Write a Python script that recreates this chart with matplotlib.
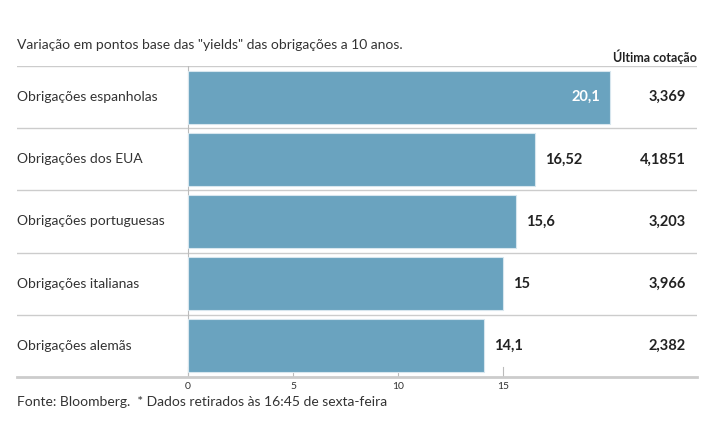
import matplotlib
matplotlib.use("Agg")
import matplotlib.pyplot as plt
from matplotlib.transforms import blended_transform_factory

plt.rcParams['font.family'] = ['Lato', 'DejaVu Sans']

categories = ["Obrigações espanholas", "Obrigações dos EUA", "Obrigações portuguesas",
              "Obrigações italianas", "Obrigações alemãs"]
values = [20.1, 16.52, 15.6, 15, 14.1]
value_labels = ["20,1", "16,52", "15,6", "15", "14,1"]
last_quote = ["3,369", "4,1851", "3,203", "3,966", "2,382"]
xticks = [0, 5, 10, 15]

W, H = 715, 445
fig = plt.figure(figsize=(W/100, H/100), dpi=100)
left_px, right_px, top_px, bottom_px = 17, 697, 66, 377
ax = fig.add_axes([left_px/W, 1-bottom_px/H, (right_px-left_px)/W, (bottom_px-top_px)/H])
zero_px, ppu = 188, 21.0
ax.set_xlim((left_px-zero_px)/ppu, (right_px-zero_px)/ppu)
ax.set_ylim(len(categories)-0.5, -0.5)

bar_color = "#6aa3bf"
ys = list(range(len(categories)))
ax.barh(ys, values, height=0.85, color=bar_color, edgecolor="#d7e6ee", linewidth=0.8, zorder=2)

for s in ax.spines.values():
    s.set_visible(False)
ax.set_yticks([])
ax.set_xticks([])

# separators
for i in range(len(categories)):
    ax.axhline(i-0.5, color="#cccccc", lw=1, zorder=1)
ax.axhline(len(categories)-0.5, color="#cccccc", lw=2, zorder=3, clip_on=False)
ax.plot([0, 0], [-0.5, len(categories)-0.5], color="#bbbbbb", lw=0.8, zorder=1)

# ticks
trans_tick = blended_transform_factory(ax.transData, ax.transAxes)
for t in xticks:
    ax.plot([t, t], [0, 10/(bottom_px-top_px)], color="#bbbbbb", lw=0.8, transform=trans_tick, zorder=1)
    ax.text(t, -5/(bottom_px-top_px), str(t), transform=trans_tick, ha="center", va="top",
            fontsize=7.5, color="#333333")

trans_lbl = blended_transform_factory(ax.transAxes, ax.transData)
for i, (c, v, vl, q) in enumerate(zip(categories, values, value_labels, last_quote)):
    ax.text(0, i, c, transform=trans_lbl, ha="left", va="center", fontsize=10, color="#333333")
    if v > 18:
        ax.text(v - 10/ppu, i, vl, ha="right", va="center", fontsize=10.5, color="white", fontweight="bold")
    else:
        ax.text(v + 10/ppu, i, vl, ha="left", va="center", fontsize=10.5, color="#222222", fontweight="bold")
    ax.text((686-left_px)/(right_px-left_px), i, q, transform=trans_lbl, ha="right", va="center",
            fontsize=10.5, color="#222222", fontweight="bold")

fig.text(17/W, 1-45/H, 'Variação em pontos base das "yields" das obrigações a 10 anos.',
         ha="left", va="center", fontsize=10, color="#333333")
fig.text(697/W, 1-57/H, "Última cotação", ha="right", va="center", fontsize=9, color="#222222",
         fontweight="bold")
fig.text(17/W, 1-402/H, "Fonte: Bloomberg.  * Dados retirados às 16:45 de sexta-feira",
         ha="left", va="center", fontsize=10, color="#333333")

fig.savefig("out.png", dpi=100, facecolor="white")
